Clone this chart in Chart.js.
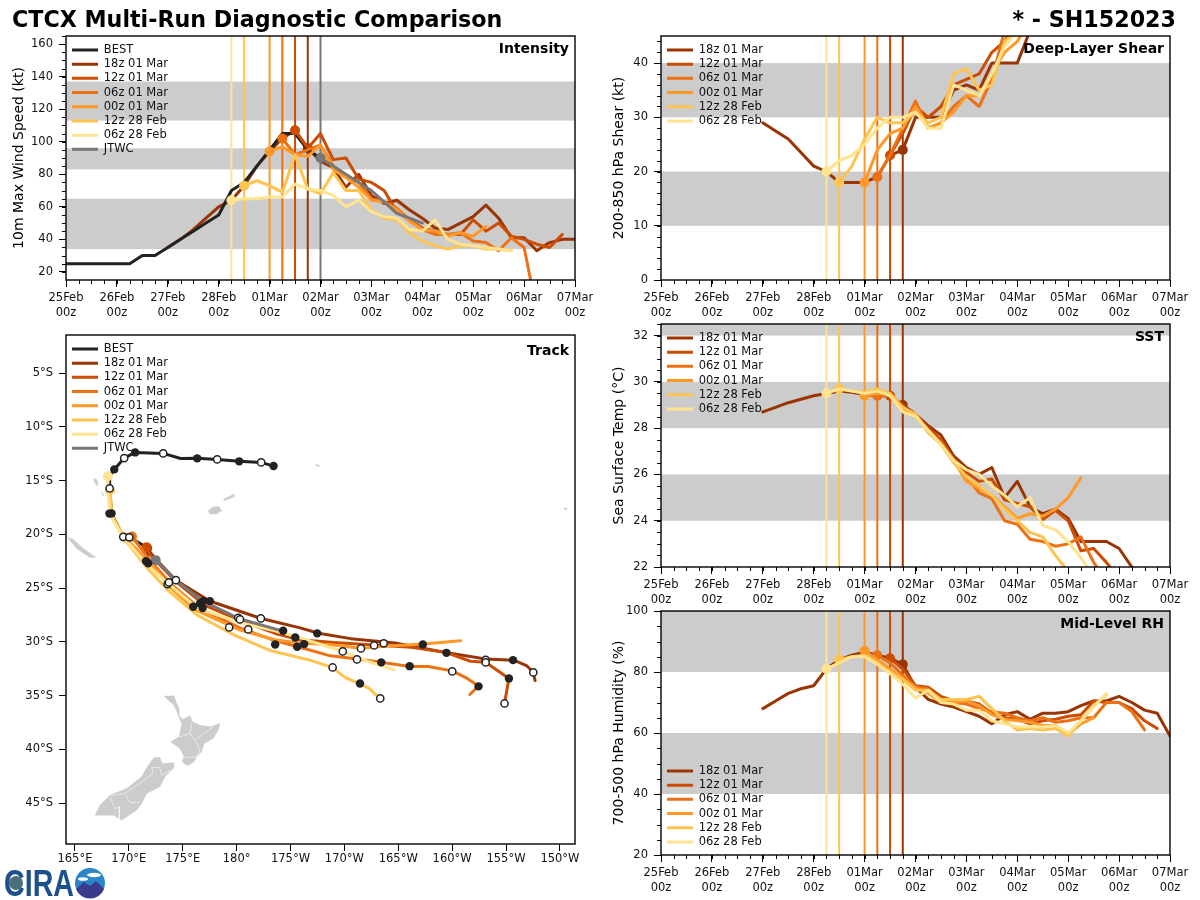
<!DOCTYPE html>
<html lang="en">
<head>
<meta charset="UTF-8">
<title>CTCX Multi-Run Diagnostic Comparison</title>
<script src="https://cdn.jsdelivr.net/npm/chart.js"></script>
<style>
    body { margin: 0; background: #fff; font-family: "DejaVu Sans", sans-serif; }
    #page { position: relative; width: 1200px; height: 900px; overflow: hidden; }
    canvas { position: absolute; }
    .head { position: absolute; top: 6px; font-size: 22.2px; font-weight: bold; color: #000; white-space: nowrap; }
    #logo { position: absolute; left: 4px; top: 867px; }
</style>
</head>
<body>
<div id="page">
    <canvas id="intensity" style="left:0;top:22px" width="600" height="298"></canvas>
    <canvas id="shear" style="left:600px;top:22px" width="600" height="298"></canvas>
    <canvas id="track" style="left:0;top:320px" width="600" height="549"></canvas>
    <canvas id="sst" style="left:600px;top:310px" width="600" height="297"></canvas>
    <canvas id="rh" style="left:600px;top:596px" width="600" height="299"></canvas>
    <div class="head" style="left:12px">CTCX Multi-Run Diagnostic Comparison</div>
    <div class="head" style="right:24px">* - SH152023</div>
    <svg id="logo" width="104" height="32" viewBox="0 0 104 32">
        <text x="0" y="29" font-family="Liberation Sans" font-weight="bold" font-size="37" fill="#1d4f8c" textLength="70" lengthAdjust="spacingAndGlyphs">CIRA</text>
        <circle cx="12" cy="16" r="7" fill="#4b6f7a"/>
        <circle cx="86" cy="16" r="15" fill="#2b86c8"/>
        <path d="M72 22 L80 15 L86 19 L92 14 L100 22 A15 15 0 0 1 72 22 Z" fill="#3c3a8c"/>
        <ellipse cx="90" cy="8" rx="7" ry="2.2" fill="#fff"/>
        <ellipse cx="79" cy="12" rx="5" ry="1.8" fill="#fff"/>
    </svg>
</div>

<script>
// time axis: hours since 25Feb 00z
const dayTicks = [0, 24, 48, 72, 96, 120, 144, 168, 192, 216, 240];
const dayLabels = ['25Feb', '26Feb', '27Feb', '28Feb', '01Mar', '02Mar', '03Mar', '04Mar', '05Mar', '06Mar', '07Mar'];

// runs, in drawing order
const runLabels = ['18z 01 Mar', '12z 01 Mar', '06z 01 Mar', '00z 01 Mar', '12z 28 Feb', '06z 28 Feb'];
const runColors = ['#993404', '#cc4c02', '#ec7014', '#fe9929', '#fec44f', '#fee391'];
const runInitHours = [114, 108, 102, 96, 84, 78];
const jtwcColor = '#777777';
const bestColor = '#222222';

// Intensity (kt), every 6h
const bestHour0 = 0;
const bestWind = [25, 25, 25, 25, 25, 25, 30, 30, 35, 40, 45, 50, 55, 70, 75, 85, 95, 105, 105, 95, 90];
const jtwcHour0 = 120;
const jtwcWind = [90, 85, 80, 75, 70, 63, 56, 53, 50];
const windRunHour0 = [48, 108, 102, 96, 84, 78];
const wind18z = [35, 40, 46, 53, 60, 64, 73, 85, 94, 102, 107, 96, 88, 84, 72, 80, 67, 62, 64, 58, 53, 47, 46, 50, 54, 61, 53, 41, 41, 33, 38, 40, 40];
const wind12z = [107, 96, 105, 89, 90, 77, 75, 70, 57, 52, 47, 45, 43, 43, 52, 45, 50, 42, 40, 37, 35, 43];
const wind06z = [102, 92, 95, 98, 85, 78, 75, 65, 63, 59, 52, 46, 43, 43, 44, 39, 38, 33, 41, 35, -4];
const wind00z = [94, 97, 92, 91, 98, 83, 78, 72, 64, 63, 58, 51, 46, 45, 42, 44, 42, 48];
const wind12f = [73, 76, 73, 69, 92, 71, 68, 81, 70, 70, 58, 53, 52, 44, 39, 36, 34, 36, 36, 34, 34, 33];
const wind06f = [64, 65, 65, 66, 66, 74, 71, 70, 67, 60, 64, 57, 54, 53, 46, 45, 52, 40, 37, 36, 35, 34, 33];
const windBands = [[34, 65], [83, 96], [113, 137]];

// Deep-layer shear (kt)
const shearRunHour0 = [48, 108, 102, 96, 84, 78];
const shear18z = [29, 27.5, 26, 23.5, 21, 20, 18, 18, 18, 19, 23, 24, 30, 30, 30, 35, 36, 35, 40, 40, 40, 46, 50];
const shear12z = [23, 27, 32, 30, 32, 36, 37, 38, 42, 44, 48, 52];
const shear06z = [19, 23, 28, 33, 28, 29, 32, 34, 32, 37, 46, 50];
const shear00z = [18, 24, 27, 28, 32, 28, 29, 31, 34, 34, 38, 42, 44, 48];
const shear12f = [18, 21, 26, 30, 29, 29, 31, 29, 30, 38, 39, 35, 36, 44, 46, 50];
const shear06f = [20, 22, 23, 25, 28, 30, 30, 31, 28, 28, 36, 35, 34, 38, 43, 46, 49];
const shearBands = [[10, 20], [30, 40]];

// SST (C)
const sstRunHour0 = [48, 108, 102, 96, 84, 78];
const sst18z = [28.7, 28.9, 29.1, 29.25, 29.4, 29.5, 29.6, 29.55, 29.45, 29.4, 29.4, 29.0, 28.6, 28.1, 27.7, 26.8, 26.3, 26.0, 26.3, 25.0, 25.7, 24.6, 24.3, 24.5, 24.1, 23.1, 23.1, 23.1, 22.8, 22.0, 21.2];
const sst12z = [29.4, 29.0, 28.5, 28.0, 27.5, 26.7, 26.1, 25.7, 25.8, 24.9, 24.75, 24.6, 24.05, 24.45, 24.0, 22.7, 22.8, 22.2, 21.5];
const sst06z = [29.4, 29.4, 28.9, 28.6, 27.9, 27.4, 26.6, 25.9, 25.2, 24.95, 24.0, 23.85, 23.2, 23.1, 22.9, 23.0, 23.3, 22.2, 21.4];
const sst00z = [29.4, 29.5, 29.5, 28.8, 28.6, 27.9, 27.3, 26.6, 25.7, 25.4, 25.1, 24.6, 24.1, 24.3, 24.2, 24.5, 25.0, 25.85];
const sst12f = [29.7, 29.6, 29.55, 29.7, 29.5, 28.9, 28.6, 27.8, 27.3, 26.5, 25.9, 25.5, 25.1, 24.5, 24.0, 23.5, 23.3, 22.5, 21.8];
const sst06f = [29.5, 29.7, 29.6, 29.5, 29.6, 29.4, 28.7, 28.5, 27.9, 27.3, 26.6, 26.2, 26.0, 25.5, 25.1, 24.6, 25.0, 23.8, 23.6, 23.1, 22.4, 21.6];
const sstBands = [[24, 26], [28, 30], [32, 33]];

// Mid-level RH (%)
const rhRunHour0 = [48, 108, 102, 96, 84, 78];
const rh18z = [68, 70.5, 73, 74.5, 75.5, 81, 84, 85.5, 86.5, 85.5, 84.5, 82.5, 75, 71, 69.5, 68.5, 67, 65.5, 63, 66, 67, 64.5, 66.5, 66.5, 67, 69, 70.5, 70.5, 72, 70, 67.5, 66.5, 59];
const rh12z = [84.5, 81, 75.5, 75, 72, 70.5, 70.5, 69.5, 66.5, 65, 64.5, 63, 64, 64.5, 65.5, 66, 70.5, 70, 70, 68, 64, 61.5];
const rh06z = [85.5, 83, 79, 75, 74.5, 70.5, 70, 69.5, 68, 67, 66.5, 65, 64, 65, 63.5, 64, 65, 65, 70, 70, 67, 61];
const rh00z = [87, 84, 81, 78, 75, 73, 70, 70, 70.5, 69, 66, 64.5, 64, 63.5, 62.5, 62.5, 59.5, 63, 65];
const rh12f = [84, 85, 85.5, 83, 80, 77.5, 74, 74, 71, 71, 71, 72, 68, 64, 61, 61.5, 61, 61.5, 59, 64, 69, 72.5];
const rh06f = [81, 83, 85, 85, 82.5, 79.5, 76, 71.5, 74, 70, 69.5, 67.5, 67.5, 64, 63, 62, 62, 62, 62.5, 60, 64, 68.5, 73];
const rhBands = [[40, 60], [80, 100]];

// Track, degrees east / degrees north
const lonTicks = [165, 170, 175, 180, 185, 190, 195, 200, 205, 210];
const lonTickLabels = ['165°E', '170°E', '175°E', '180°', '175°W', '170°W', '165°W', '160°W', '155°W', '150°W'];
const latTicks = [-5, -10, -15, -20, -25, -30, -35, -40, -45];
const latTickLabels = ['5°S', '10°S', '15°S', '20°S', '25°S', '30°S', '35°S', '40°S', '45°S'];

const bestLon = [183.43, 182.28, 180.24, 178.2, 176.35, 174.8, 173.19, 170.59, 169.57, 168.65, 168.2, 168.22, 168.4, 169.48, 170.04, 171.65, 171.8, 172.49];
const bestLat = [-13.65, -13.31, -13.21, -13.03, -12.93, -12.95, -12.47, -12.38, -12.91, -13.96, -14.6, -15.73, -18.05, -20.23, -20.28, -21.2, -22.7, -22.4];
const jtwcLon = [172.49, 174.37, 176.87, 180.12, 184.29];
const jtwcLat = [-22.4, -24.3, -26.2, -27.8, -29.0];
const lon18z = [171.7, 172.4, 174.4, 177.5, 182.2, 185.9, 187.6, 190.6, 194.7, 197.3, 199.5, 203.1, 205.7, 206.9, 207.5, 207.7];
const lat18z = [-21.3, -22.2, -24.3, -26.2, -27.8, -28.7, -29.2, -29.7, -30.1, -30.6, -31.0, -31.6, -31.7, -32.2, -32.8, -33.6];
const lon12z = [171.65, 171.96, 174.37, 177.06, 180.31, 183.83, 185.87, 189.0, 192.76, 196.22, 199.47, 201.7, 203.11, 205.27, 204.86];
const lat12z = [-21.2, -21.9, -24.4, -26.6, -28.0, -29.3, -29.8, -30.05, -30.3, -30.5, -31.0, -31.8, -31.9, -33.4, -35.7];
const lon06z = [170.29, 171.96, 174.0, 176.6, 180.31, 183.27, 185.87, 188.69, 191.17, 193.42, 196.06, 197.78, 200.01, 201.22, 202.45, 201.64];
const lat06z = [-20.2, -22.4, -24.7, -26.9, -28.7, -29.8, -30.5, -31.3, -31.6, -31.9, -32.3, -32.3, -32.7, -33.3, -34.1, -34.9];
const lon00z = [169.64, 171.96, 173.81, 176.13, 180.31, 183.55, 185.87, 189.0, 191.54, 193.71, 197.28, 200.79];
const lat00z = [-20.3, -22.6, -24.9, -27.0, -28.9, -29.8, -30.1, -30.3, -30.6, -30.4, -30.2, -29.9];
const lon12f = [168.25, 168.43, 169.64, 171.68, 173.63, 176.32, 179.84, 183.09, 186.8, 188.91, 190.05, 191.44, 192.27, 193.33];
const lat12f = [-15.9, -18.2, -20.5, -23.1, -25.2, -27.5, -29.4, -30.8, -31.7, -32.4, -33.3, -33.9, -34.3, -35.3];
const lon06f = [168.06, 168.06, 168.25, 169.36, 171.77, 173.81, 176.41, 180.31, 183.65, 185.87, 189.85, 192.14, 194.65];
const lat06f = [-14.6, -15.9, -18.2, -20.1, -22.9, -24.7, -26.9, -28.2, -29.0, -29.6, -30.9, -31.8, -32.6];

// 00z / 12z position dots
const dotLon = [183.43, 180.24, 176.35, 170.59, 168.65, 168.4, 168.2, 171.8, 171.59, 175.97, 176.6, 176.9, 177.52, 176.85, 184.32, 185.44, 187.48, 183.58, 185.62, 186.27, 197.28, 199.47, 205.65, 205.27, 202.45, 196.06, 193.42, 191.45];
const dotLat = [-13.65, -13.21, -12.93, -12.38, -13.96, -18.05, -18.07, -22.7, -22.49, -26.74, -26.42, -26.21, -26.21, -26.86, -28.97, -29.59, -29.21, -30.24, -30.46, -30.21, -30.24, -31.02, -31.7, -33.4, -34.14, -32.26, -31.91, -33.87];
const openLon = [182.28, 178.2, 173.19, 169.57, 168.22, 169.48, 170.04, 173.6, 173.72, 174.37, 180.15, 180.31, 182.25, 179.31, 181.08, 193.65, 192.76, 191.54, 189.85, 191.17, 188.91, 193.33, 200.01, 203.11, 203.11, 207.53, 204.86];
const openLat = [-13.31, -13.03, -12.47, -12.91, -15.73, -20.23, -20.28, -24.63, -24.47, -24.26, -27.76, -27.91, -27.82, -28.66, -28.84, -30.14, -30.33, -30.61, -30.89, -31.63, -32.38, -35.26, -32.75, -31.67, -31.91, -32.84, -35.73];

// land outlines as [lon, lat] lists
const northIsland = [[173.28, -35.05], [174.18, -35.02], [174.43, -35.72], [174.68, -36.19], [174.65, -36.81], [174.99, -37.21], [175.67, -36.88], [175.92, -37.44], [176.6, -37.75], [177.59, -37.9], [178.45, -37.59], [178.29, -38.21], [177.83, -38.98], [176.97, -39.45], [176.75, -40.23], [176.29, -40.69], [176.04, -41.16], [175.42, -41.53], [174.95, -41.16], [175.11, -40.63], [174.74, -39.91], [173.88, -39.3], [174.68, -38.83], [174.9, -37.59], [174.53, -36.66], [174.18, -35.88], [173.66, -35.42]];
const southIsland = [[172.33, -40.75], [172.88, -40.75], [173.1, -41.31], [174.18, -41.25], [174.12, -41.77], [173.35, -42.55], [172.88, -43.48], [171.65, -44.1], [171.19, -45.03], [170.72, -45.65], [169.33, -46.58], [168.55, -46.12], [166.88, -46.12], [167.32, -45.19], [168.25, -44.26], [169.8, -43.63], [171.19, -42.55], [171.8, -41.47]];
const vitiLevu = [[177.37, -17.8], [177.83, -17.43], [178.39, -17.43], [178.61, -17.8], [178.14, -18.11], [177.52, -18.11]];
const vanuaLevu = [[178.76, -16.75], [179.69, -16.28], [179.75, -16.5], [178.92, -16.87]];
const newCaledonia = [[164.29, -20.28], [164.85, -20.47], [165.77, -21.31], [166.95, -22.15], [166.39, -22.15], [165.16, -21.31]];
const santo = [[166.7, -14.8], [167.07, -14.95], [167.17, -15.48], [166.86, -15.26]];
const malekula = [[167.48, -16.04], [167.69, -16.35], [167.57, -16.44]];
const savaii = [[187.3, -13.5], [187.7, -13.55], [187.6, -13.75]];
const tahiti = [[210.4, -17.5], [210.7, -17.6], [210.5, -17.75]];
const landShapes = [northIsland, southIsland, vitiLevu, vanuaLevu, newCaledonia, santo, malekula, savaii, tahiti];
// white province lines on New Zealand
const nzBorders = [
    [[168.4, -44.26], [169.64, -44.1], [171.03, -43.17], [172.26, -42.18], [172.11, -41.68], [172.88, -41.68], [173.04, -42.4], [173.87, -42.0]],
    [[168.24, -44.41], [168.71, -45.5], [169.17, -45.34], [169.11, -46.52]],
    [[169.64, -44.1], [170.1, -44.97], [171.03, -44.88]],
    [[174.74, -38.83], [175.67, -38.52], [176.13, -39.14], [176.96, -38.52], [177.83, -37.9]],
    [[175.67, -38.52], [175.82, -37.59]],
    [[176.13, -39.14], [176.59, -40.07], [176.28, -40.69], [175.05, -40.75]]
];

const tickFont = { family: 'DejaVu Sans', size: 11.5, lineHeight: 1.3 };
const legendFont = { family: 'DejaVu Sans', size: 11.5 };

// bands, frame, minor ticks, panel label, legend placement
const panelPlugin = {
    id: 'panel',
    afterLayout(chart, args, opts) {
        const legend = chart.legend, area = chart.chartArea;
        legend.left = area.left + 3.3;
        legend.top = opts.legendTop !== undefined ? opts.legendTop : area.top + 5.5;
        legend.right = area.right;
        legend.bottom = chart.height;
    },
    beforeDraw(chart, args, opts) {
        const { ctx, chartArea: a, scales } = chart;
        ctx.save();
        ctx.fillStyle = '#cccccc';
        (opts.bands || []).forEach(b => {
            const top = Math.max(scales.y.getPixelForValue(b[1]), a.top);
            const bot = Math.min(scales.y.getPixelForValue(b[0]), a.bottom);
            ctx.fillRect(a.left, top, a.right - a.left, bot - top);
        });
        ctx.restore();
    },
    afterDraw(chart, args, opts) {
        const { ctx, chartArea: a, scales } = chart;
        ctx.save();
        ctx.strokeStyle = '#000';
        ctx.lineWidth = 1;
        if (opts.minorX) {
            for (let h = scales.x.min; h <= scales.x.max; h += opts.minorX) {
                const px = Math.round(scales.x.getPixelForValue(h)) + 0.5;
                ctx.beginPath(); ctx.moveTo(px, a.bottom); ctx.lineTo(px, a.bottom + 4); ctx.stroke();
            }
        }
        if (opts.minorY) {
            for (let v = opts.minorY0; v <= scales.y.max; v += opts.minorY) {
                if (v < scales.y.min) continue;
                const py = Math.round(scales.y.getPixelForValue(v)) + 0.5;
                ctx.beginPath(); ctx.moveTo(a.left, py); ctx.lineTo(a.left - 4, py); ctx.stroke();
            }
        }
        ctx.lineWidth = 1.4;
        ctx.strokeRect(a.left, a.top, a.right - a.left, a.bottom - a.top);
        ctx.fillStyle = '#000';
        ctx.font = 'bold 14px "DejaVu Sans"';
        ctx.textAlign = 'right';
        ctx.textBaseline = 'middle';
        ctx.fillText(opts.label, a.right - 6, a.top + (opts.labelDy || 13));
        ctx.restore();
    }
};

function legendOptions() {
    return {
        position: 'chartArea',
        align: 'start',
        labels: {
            font: legendFont,
            color: '#111',
            boxWidth: 26,
            boxHeight: 3,
            padding: 2.7,
            generateLabels(chart) {
                const rank = item => (item.text === 'BEST' ? -1 : item.datasetIndex);
                return Chart.defaults.plugins.legend.labels.generateLabels(chart)
                    .filter(item => item.text !== '')
                    .sort((a, b) => rank(a) - rank(b))
                    .map(item => Object.assign(item, { fillStyle: item.strokeStyle, lineWidth: 0 }));
            }
        }
    };
}

function axis(min, max, tickValues, tickLabel, pad, extra) {
    return Object.assign({
        type: 'linear',
        min: min,
        max: max,
        grid: { drawOnChartArea: false, tickColor: '#000', tickLength: 7, tickWidth: 1 },
        border: { display: false },
        afterBuildTicks: s => { s.ticks = tickValues.map(v => ({ value: v })); }
    }, extra, {
        ticks: { font: tickFont, color: '#111', maxRotation: 0, autoSkip: false, padding: pad, callback: tickLabel }
    });
}

function lineSet(label, color, hour0, values, initHour) {
    return {
        label: label,
        data: values.map((v, i) => ({ x: hour0 + i * 6, y: v })),
        showLine: true,
        borderColor: color,
        backgroundColor: color,
        borderWidth: 3,
        borderCapStyle: 'round',
        borderJoinStyle: 'round',
        pointBackgroundColor: color,
        pointBorderWidth: 0,
        pointRadius: ctx => (ctx.raw.x === initHour ? 5 : 0)
    };
}

function vLine(hour, color, yMin, yMax) {
    return {
        label: '',
        data: [{ x: hour, y: yMin }, { x: hour, y: yMax }],
        showLine: true,
        borderColor: color,
        backgroundColor: color,
        borderWidth: 2,
        pointRadius: 0
    };
}

// later datasets are painted on top, like the order they are listed in
function stack(sets) {
    sets.forEach((s, i) => { s.order = -i; });
    return sets;
}

function timePanel(id, opts) {
    const sets = [];
    if (opts.jtwc) sets.push(vLine(120, jtwcColor, opts.min, opts.max));
    runInitHours.forEach((h, i) => sets.push(vLine(h, runColors[i], opts.min, opts.max)));
    opts.runs.forEach((vals, i) => {
        sets.push(lineSet(runLabels[i], runColors[i], opts.runHour0[i], vals, runInitHours[i]));
        // best track sits over the 18z history, under the newer runs
        if (i === 0 && opts.best) sets.push(lineSet('BEST', bestColor, bestHour0, opts.best, -1));
    });
    if (opts.jtwc) sets.push(lineSet('JTWC', jtwcColor, jtwcHour0, opts.jtwc, 120));

    new Chart(document.getElementById(id), {
        type: 'scatter',
        data: { datasets: stack(sets) },
        plugins: [panelPlugin],
        options: {
            responsive: false,
            animation: false,
            devicePixelRatio: 1,
            layout: { padding: { top: opts.padTop, right: opts.padRight } },
            scales: {
                x: axis(0, 240, dayTicks, (v, i) => [dayLabels[i], '00z'], 3.5, { afterFit: s => { s.height = 40; } }),
                y: axis(opts.min, opts.max, opts.yTicks, v => v, 6, {
                    afterFit: s => { s.width = opts.leftWidth; },
                    title: { display: true, text: opts.yTitle, font: { family: 'DejaVu Sans', size: 14 }, color: '#000', padding: { top: 11, bottom: 0 } }
                })
            },
            plugins: {
                legend: legendOptions(),
                tooltip: { enabled: false },
                panel: { bands: opts.bands, label: opts.label, minorX: 6, minorY: opts.minorY, minorY0: opts.minorY0, legendTop: opts.legendTop }
            }
        }
    });
}

timePanel('intensity', {
    min: 15, max: 165, yTicks: [20, 40, 60, 80, 100, 120, 140, 160], minorY: 5, minorY0: 20,
    yTitle: '10m Max Wind Speed (kt)', label: 'Intensity', bands: windBands, padTop: 14, padRight: 25, leftWidth: 66,
    best: bestWind, jtwc: jtwcWind, runHour0: windRunHour0, runs: [wind18z, wind12z, wind06z, wind00z, wind12f, wind06f]
});
timePanel('shear', {
    min: 0, max: 45, yTicks: [0, 10, 20, 30, 40], minorY: 2, minorY0: 0,
    yTitle: '200-850 hPa Shear (kt)', label: 'Deep-Layer Shear', bands: shearBands, padTop: 14, padRight: 30, leftWidth: 61,
    runHour0: shearRunHour0, runs: [shear18z, shear12z, shear06z, shear00z, shear12f, shear06f]
});
timePanel('sst', {
    min: 22, max: 32.5, yTicks: [22, 24, 26, 28, 30, 32], minorY: 0.5, minorY0: 22,
    yTitle: 'Sea Surface Temp (°C)', label: 'SST', bands: sstBands, padTop: 14, padRight: 30, leftWidth: 61,
    runHour0: sstRunHour0, runs: [sst18z, sst12z, sst06z, sst00z, sst12f, sst06f]
});
timePanel('rh', {
    min: 20, max: 100, yTicks: [20, 40, 60, 80, 100], minorY: 5, minorY0: 20,
    yTitle: '700-500 hPa Humidity (%)', label: 'Mid-Level RH', bands: rhBands, padTop: 15, padRight: 30, leftWidth: 61, legendTop: 166.5,
    runHour0: rhRunHour0, runs: [rh18z, rh12z, rh06z, rh00z, rh12f, rh06f]
});

// track map
function zipPoints(lons, lats) {
    return lons.map((lon, i) => ({ x: lon, y: lats[i] }));
}
function trackSet(label, color, lons, lats, initMarker) {
    return {
        label: label,
        data: zipPoints(lons, lats),
        showLine: true,
        borderColor: color,
        backgroundColor: color,
        borderWidth: 3,
        borderCapStyle: 'round',
        borderJoinStyle: 'round',
        pointBackgroundColor: color,
        pointBorderWidth: 0,
        pointRadius: ctx => (initMarker && ctx.dataIndex === 0 ? 5 : 0)
    };
}
function dotSet(lons, lats, fill, stroke, radius, bw) {
    return {
        label: '',
        data: zipPoints(lons, lats),
        showLine: false,
        borderColor: stroke,
        backgroundColor: fill,
        pointBackgroundColor: fill,
        pointBorderColor: stroke,
        pointBorderWidth: bw,
        pointRadius: radius
    };
}
function landSet(shape) {
    const pts = shape.concat([shape[0]]).map(p => ({ x: p[0], y: p[1] }));
    return { label: '', data: pts, showLine: true, fill: 'shape', borderColor: '#cccccc', backgroundColor: '#cccccc', borderWidth: 0.5, pointRadius: 0 };
}
function borderSet(line) {
    return { label: '', data: line.map(p => ({ x: p[0], y: p[1] })), showLine: true, borderColor: 'rgba(255,255,255,0.8)', backgroundColor: '#ffffff', borderWidth: 0.7, pointRadius: 0 };
}

const trackSets = [];
landShapes.forEach(s => trackSets.push(landSet(s)));
nzBorders.forEach(l => trackSets.push(borderSet(l)));
trackSets.push(trackSet('BEST', bestColor, bestLon, bestLat, false));
trackSets.push(trackSet(runLabels[0], runColors[0], lon18z, lat18z, true));
trackSets.push(trackSet(runLabels[1], runColors[1], lon12z, lat12z, true));
trackSets.push(trackSet(runLabels[2], runColors[2], lon06z, lat06z, true));
trackSets.push(trackSet(runLabels[3], runColors[3], lon00z, lat00z, true));
trackSets.push(trackSet(runLabels[4], runColors[4], lon12f, lat12f, true));
trackSets.push(trackSet(runLabels[5], runColors[5], lon06f, lat06f, true));
trackSets.push(trackSet('JTWC', jtwcColor, jtwcLon, jtwcLat, true));
trackSets.push(dotSet(dotLon, dotLat, '#222222', '#222222', 4.2, 0));
trackSets.push(dotSet(openLon, openLat, '#ffffff', '#222222', 3.6, 1.5));

new Chart(document.getElementById('track'), {
    type: 'scatter',
    data: { datasets: stack(trackSets) },
    plugins: [panelPlugin],
    options: {
        responsive: false,
        animation: false,
        devicePixelRatio: 1,
        layout: { padding: { top: 15, right: 25 } },
        scales: {
            x: axis(164.17, 211.4, lonTicks, (v, i) => lonTickLabels[i], 1, { afterFit: s => { s.height = 25; } }),
            y: axis(-48.8, -1.46, latTicks, (v, i) => latTickLabels[i], 6, { afterFit: s => { s.width = 66; } })
        },
        plugins: {
            legend: legendOptions(),
            tooltip: { enabled: false },
            panel: { bands: [], label: 'Track', labelDy: 16 }
        }
    }
});
</script>
</body>
</html>
